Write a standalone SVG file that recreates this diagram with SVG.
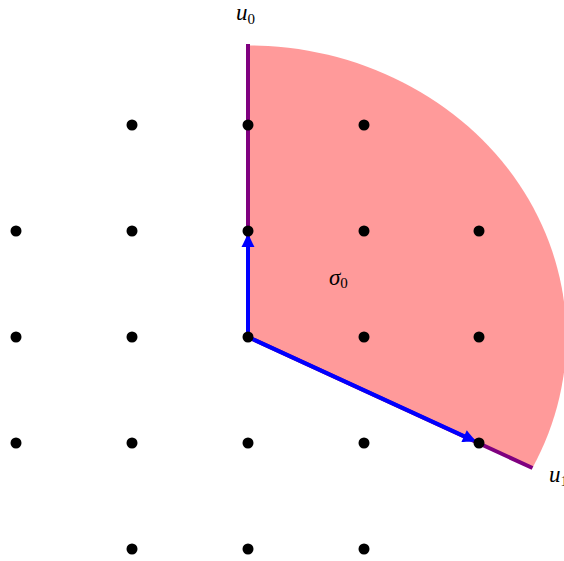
<svg xmlns="http://www.w3.org/2000/svg" width="564" height="561" viewBox="0 0 564 561">
  <style>
    .cone { fill: #ff9a9a; stroke: none; }
    .ray { stroke: #7f007f; stroke-width: 4; fill: none; }
    .vec { stroke: #0000ff; stroke-width: 4; fill: none; marker-end: url(#head); }
    .pt { fill: #000000; }
    .lbl { font-family: "Liberation Serif", "DejaVu Serif", serif; font-style: italic; font-size: 23px; fill: #000000; }
    .sub { font-family: "Liberation Serif", "DejaVu Serif", serif; font-style: normal; font-size: 15px; fill: #000000; }
  </style>
  <defs>
    <marker id="head" markerUnits="userSpaceOnUse" markerWidth="18" markerHeight="16" viewBox="0 -8 18 16" refX="1" refY="0" orient="auto" overflow="visible">
      <path d="M0,-6.5 C4,-4.5 10,-1.5 14,0 C10,1.5 4,4.5 0,6.5 Z" fill="#0000ff"/>
    </marker>
  </defs>
  <g id="cone-sigma0">
    <path class="cone" d="M248,337 L248,45.5 A318.3,291.5 0 0 1 532.7,467.4 Z"/>
  </g>
  <g id="connectors">
    <line id="ray-u0" class="ray" x1="248" y1="337" x2="248" y2="44"/>
    <line id="ray-u1" class="ray" x1="248" y1="337" x2="532.5" y2="468"/>
    <line id="vec-up" class="vec" x1="248" y1="337" x2="248" y2="246"/>
    <line id="vec-diag" class="vec" x1="248" y1="337" x2="465" y2="436.6"/>
  </g>
  <g id="lattice">
    <circle class="pt" cx="132" cy="125" r="5.5"/>
    <circle class="pt" cx="248" cy="125" r="5.5"/>
    <circle class="pt" cx="364" cy="125" r="5.5"/>
    <circle class="pt" cx="16" cy="231" r="5.5"/>
    <circle class="pt" cx="132" cy="231" r="5.5"/>
    <circle class="pt" cx="248" cy="231" r="5.5"/>
    <circle class="pt" cx="364" cy="231" r="5.5"/>
    <circle class="pt" cx="479" cy="231" r="5.5"/>
    <circle class="pt" cx="16" cy="337" r="5.5"/>
    <circle class="pt" cx="132" cy="337" r="5.5"/>
    <circle class="pt" cx="248" cy="337" r="5.5"/>
    <circle class="pt" cx="364" cy="337" r="5.5"/>
    <circle class="pt" cx="479" cy="337" r="5.5"/>
    <circle class="pt" cx="16" cy="443" r="5.5"/>
    <circle class="pt" cx="132" cy="443" r="5.5"/>
    <circle class="pt" cx="248" cy="443" r="5.5"/>
    <circle class="pt" cx="364" cy="443" r="5.5"/>
    <circle class="pt" cx="479" cy="443" r="5.5"/>
    <circle class="pt" cx="132" cy="549" r="5.5"/>
    <circle class="pt" cx="248" cy="549" r="5.5"/>
    <circle class="pt" cx="364" cy="549" r="5.5"/>
  </g>
  <g id="label-u0">
    <text class="lbl" x="236" y="20">u<tspan class="sub" dy="4">0</tspan></text>
  </g>
  <g id="label-sigma0">
    <text class="lbl" x="329" y="285">σ<tspan class="sub" dy="3">0</tspan></text>
  </g>
  <g id="label-u1">
    <text class="lbl" x="549" y="482">u<tspan class="sub" dy="4">1</tspan></text>
  </g>
</svg>
